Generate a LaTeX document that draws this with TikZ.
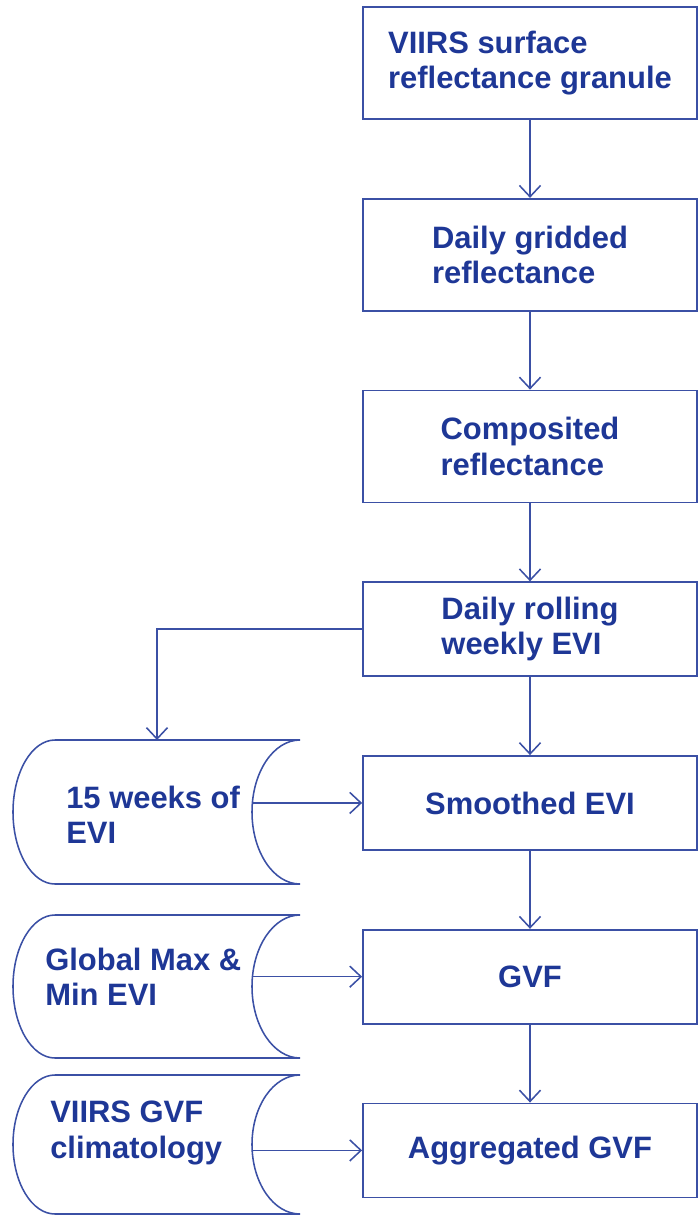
\documentclass[tikz,border=0pt]{standalone}
\usepackage{fontspec}
\setmainfont{Liberation Sans}
\usetikzlibrary{arrows.meta,positioning,calc}
\definecolor{flowblue}{HTML}{1E3796}
\definecolor{lineblue}{HTML}{3B50A5}

\begin{document}
\begin{tikzpicture}[x=0.025cm,y=-0.025cm,
    font=\fontsize{22}{25}\selectfont\bfseries,
    box/.style={draw=lineblue,line width=1.2pt,text=flowblue,align=left,minimum width=8.35cm,inner sep=0pt},
    tallbox/.style={box,minimum height=2.8cm},
    shortbox/.style={box,minimum height=2.35cm},
    flow/.style={draw=lineblue,line width=1.1pt,-{Straight Barb[length=8pt,width=15pt]}},
    store/.style={draw=lineblue,line width=1.1pt},
    storetext/.style={anchor=west,text=flowblue,align=left,inner sep=0pt},
    node distance=1.95cm]
  \useasboundingbox (0,0) rectangle (698,1216);

  % processing chain
  \node[tallbox] (granule) at (530,63) {VIIRS surface\\reflectance granule};
  \node[tallbox,below=of granule] (gridded) {Daily gridded\\reflectance};
  \node[tallbox,below=of gridded] (composited) {Composited\\reflectance};
  \node[shortbox,below=of composited] (rolling) {Daily rolling\\weekly EVI};
  \node[shortbox,below=of rolling] (smoothed) {Smoothed EVI};
  \node[shortbox,below=of smoothed] (gvf) {GVF};
  \node[shortbox,below=of gvf] (aggregated) {Aggregated GVF};

  % stored data (left column)
  \foreach \nm/\t/\b/\tx/\ty/\txt in {weeks/740/884/66/815/{15 weeks of\\EVI},
      minmax/915/1058/45/977/{Global Max \&\\Min EVI},
      clim/1075/1214/50/1133/{VIIRS GVF\\climatology}} {
    \pgfmathsetmacro\m{(\t+\b)/2}
    \pgfmathsetmacro\k{0.5523*(\b-\t)/2}
    \draw[store] (55,\t) -- (300,\t)
      .. controls (273.5,\t) and (252,\m-\k) .. (252,\m)
      .. controls (252,\m+\k) and (273.5,\b) .. (300,\b) -- (55,\b)
      .. controls (31.8,\b) and (13,\m+\k) .. (13,\m)
      .. controls (13,\m-\k) and (31.8,\t) .. cycle;
    \coordinate (\nm-in) at (157,\t);
    \coordinate (\nm-out) at (252,\m);
    \node[storetext] (\nm) at (\tx,\ty) {\txt};
  }

  % connectors
  \draw[flow] (granule) -- (gridded);
  \draw[flow] (gridded) -- (composited);
  \draw[flow] (composited) -- (rolling);
  \draw[flow] (rolling) -- (smoothed);
  \draw[flow] (smoothed) -- (gvf);
  \draw[flow] (gvf) -- (aggregated);
  \draw[flow] (rolling.west) -| (weeks-in);
  \draw[flow] (weeks-out |- smoothed.west) -- (smoothed.west);
  \draw[flow] (minmax-out |- gvf.west) -- (gvf.west);
  \draw[flow] (clim-out |- aggregated.west) -- (aggregated.west);
\end{tikzpicture}
\end{document}
